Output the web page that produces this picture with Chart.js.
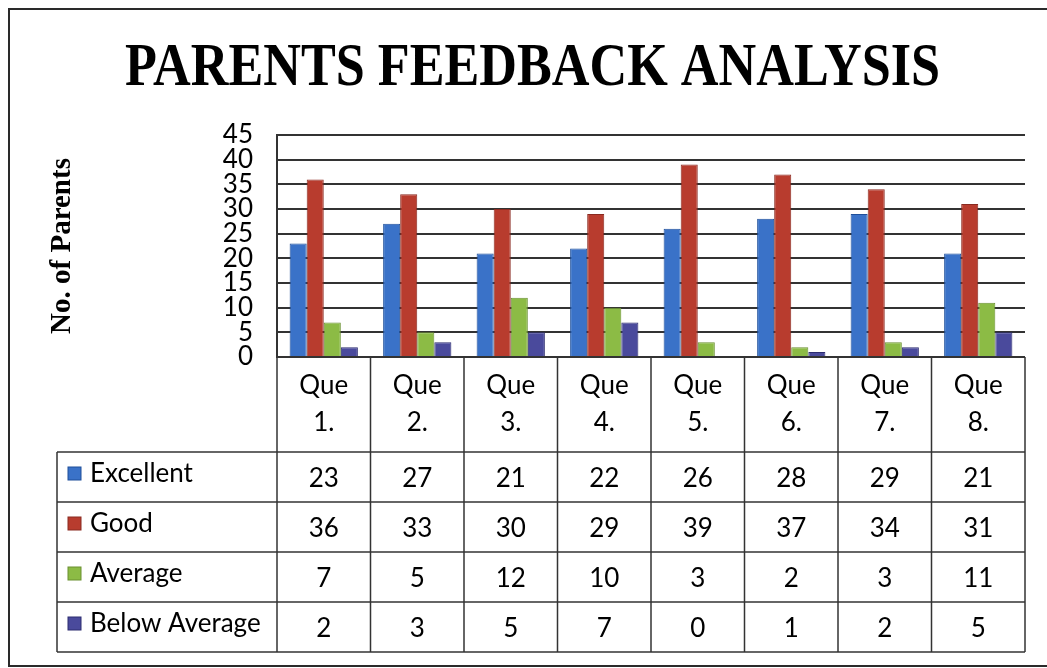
<!DOCTYPE html>
<html>
<head>
<meta charset="utf-8">
<script src="https://cdn.jsdelivr.net/npm/chart.js@4"></script>
<style>
  html, body { margin: 0; padding: 0; background: #fff; }
  #wrap { width: 1047px; height: 668px; }
</style>
</head>
<body>
<div id="wrap"><canvas id="chart" width="1047" height="668"></canvas></div>
<script>
const categories = [['Que', '1.'], ['Que', '2.'], ['Que', '3.'], ['Que', '4.'], ['Que', '5.'], ['Que', '6.'], ['Que', '7.'], ['Que', '8.']]
const excellent = [23, 27, 21, 22, 26, 28, 29, 21]
const good = [36, 33, 30, 29, 39, 37, 34, 31]
const average = [7, 5, 12, 10, 3, 2, 3, 11]
const belowAverage = [2, 3, 5, 7, 0, 1, 2, 5]
const yTicks = [0, 5, 10, 15, 20, 25, 30, 35, 40, 45]

const chartTitle = 'PARENTS FEEDBACK ANALYSIS'
const yTitle = 'No. of Parents'

// frame + big condensed serif title
const framePlugin = {
    id: 'frame',
    afterDraw(chart) {
        const ctx = chart.ctx
        ctx.save()
        ctx.strokeStyle = '#2a2a2a'
        ctx.lineWidth = 2
        ctx.strokeRect(9, 9, 1070, 657)

        ctx.font = 'bold 62px "Liberation Serif", "Times New Roman", serif'
        ctx.fillStyle = '#000'
        ctx.textBaseline = 'alphabetic'
        ctx.textAlign = 'left'
        const w = ctx.measureText(chartTitle).width
        const targetW = 815
        ctx.translate(125, 85)
        ctx.scale(targetW / w, 1)
        ctx.fillText(chartTitle, 0, 0)
        ctx.restore()
    }
}

// category header + data table under the plot
const tablePlugin = {
    id: 'dataTable',
    afterDraw(chart) {
        const ctx = chart.ctx
        const xs = chart.scales.x
        const area = chart.chartArea
        const n = categories.length
        const colW = (area.right - area.left) / n
        const tableLeft = 57
        const headTop = area.bottom
        const headBottom = 452
        const rowH = 50
        const datasets = chart.data.datasets
        const tableBottom = headBottom + rowH * datasets.length

        ctx.save()
        ctx.strokeStyle = '#333'
        ctx.lineWidth = 1.5

        // vertical column lines
        for (let i = 0; i <= n; i++) {
            const x = i < n ? xs.getPixelForValue(i) - colW / 2 : xs.getPixelForValue(n - 1) + colW / 2
            ctx.beginPath()
            ctx.moveTo(x, headTop)
            ctx.lineTo(x, tableBottom)
            ctx.stroke()
        }
        ctx.beginPath()
        ctx.moveTo(tableLeft, headBottom)
        ctx.lineTo(tableLeft, tableBottom)
        ctx.stroke()

        // horizontal row lines
        for (let r = 0; r <= datasets.length; r++) {
            const y = headBottom + r * rowH
            ctx.beginPath()
            ctx.moveTo(tableLeft, y)
            ctx.lineTo(area.right, y)
            ctx.stroke()
        }

        ctx.fillStyle = '#000'
        ctx.font = '26px Lato, "Open Sans", sans-serif'
        ctx.textAlign = 'center'
        ctx.textBaseline = 'middle'

        // category labels
        categories.forEach((lab, i) => {
            const x = xs.getPixelForValue(i)
            ctx.fillText(lab[0], x, 386)
            ctx.fillText(lab[1], x, 423)
        })

        // legend column + values
        datasets.forEach((ds, r) => {
            const yc = headBottom + r * rowH + rowH / 2
            ctx.fillStyle = ds.backgroundColor
            ctx.fillRect(68, yc - 10, 13, 13)
            ctx.strokeStyle = ds.borderColor
            ctx.lineWidth = 1
            ctx.strokeRect(68, yc - 10, 13, 13)
            ctx.fillStyle = '#000'
            ctx.textAlign = 'left'
            ctx.fillText(ds.label, 90, yc - 3)
            ctx.textAlign = 'center'
            ds.data.forEach((v, i) => {
                ctx.fillText(String(v), xs.getPixelForValue(i), yc + 2)
            })
        })
        ctx.restore()
    }
}

const ctx = document.getElementById('chart').getContext('2d')
new Chart(ctx, {
    type: 'bar',
    data: {
        labels: categories,
        datasets: [
            { label: 'Excellent', data: excellent, backgroundColor: '#3a72c8', borderColor: '#1f4f9a', borderWidth: 1 },
            { label: 'Good', data: good, backgroundColor: '#b83c2e', borderColor: '#8a2a20', borderWidth: 1 },
            { label: 'Average', data: average, backgroundColor: '#8cbb45', borderColor: '#6a9030', borderWidth: 1 },
            { label: 'Below Average', data: belowAverage, backgroundColor: '#4a4a9c', borderColor: '#2c2c70', borderWidth: 1 }
        ]
    },
    options: {
        responsive: false,
        animation: false,
        layout: {
            padding: { top: 135, bottom: 311, left: 10, right: 22 }
        },
        plugins: {
            legend: { display: false },
            tooltip: { enabled: false },
            title: { display: false }
        },
        datasets: {
            bar: { categoryPercentage: 0.73, barPercentage: 1.0 }
        },
        scales: {
            x: {
                display: false
            },
            y: {
                min: yTicks[0],
                max: yTicks[yTicks.length - 1],
                afterFit: (scale) => { scale.width = 267 },
                afterBuildTicks: (scale) => { scale.ticks = yTicks.map(v => ({ value: v })) },
                grid: {
                    color: '#333',
                    lineWidth: 2,
                    drawTicks: false
                },
                border: { display: true, color: '#333', width: 2 },
                ticks: {
                    autoSkip: false,
                    color: '#000',
                    padding: 24,
                    font: { family: 'Lato, "Open Sans", sans-serif', size: 26, lineHeight: 1.0 }
                },
                title: {
                    display: true,
                    text: yTitle,
                    color: '#000',
                    font: { family: '"Liberation Serif", "Times New Roman", serif', weight: 'bold', size: 29 },
                    padding: { top: 35, bottom: 0 }
                }
            }
        }
    },
    plugins: [framePlugin, tablePlugin]
})
</script>
</body>
</html>
